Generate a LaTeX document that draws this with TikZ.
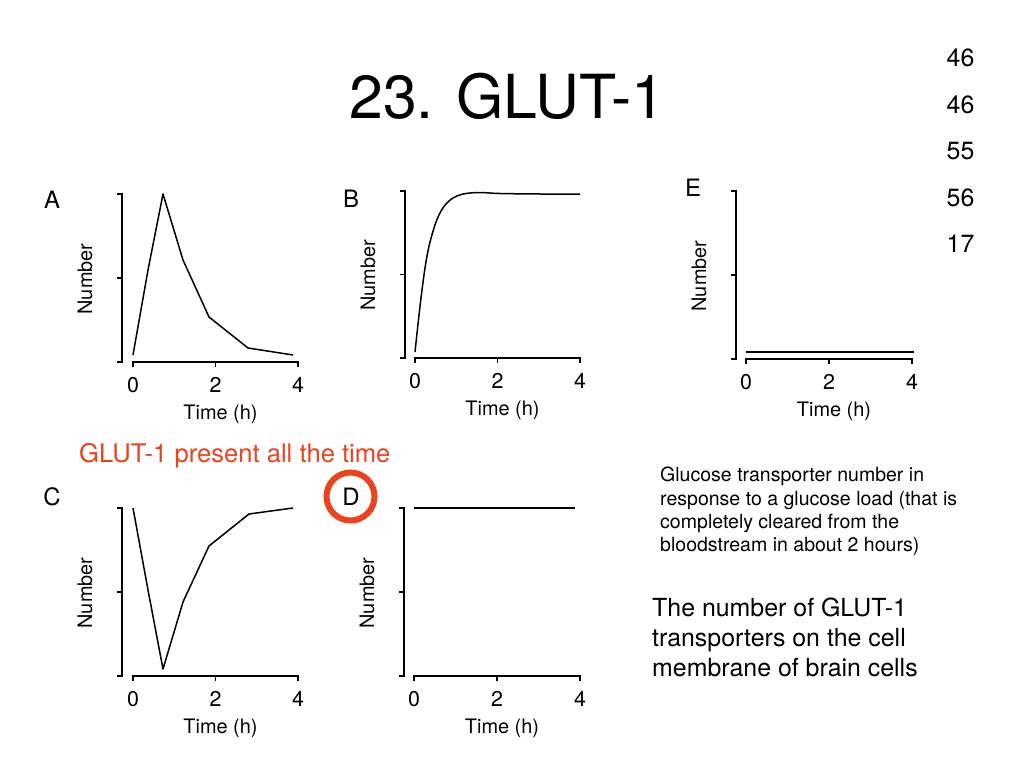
\documentclass[tikz,border=0pt]{standalone}
\usepackage{fontspec}
\setmainfont{TeX Gyre Heros}
\usetikzlibrary{positioning}
\definecolor{glutred}{RGB}{234,67,30}
\tikzset{
  axis/.style={line width=1.4bp},
  curve/.style={line width=1.5bp, line join=round},
  ticklbl/.style={font=\fontsize{21.5}{21.5}\selectfont, anchor=base, inner sep=0},
  axlbl/.style={font=\fontsize{20}{20}\selectfont, inner sep=0},
  paneltag/.style={font=\fontsize{24}{24}\selectfont, anchor=base, inner sep=0},
}

\begin{document}
\begin{tikzpicture}[x=1bp, y=-1bp]
    \fill[white] (0,0) rectangle (1024,768);
    \useasboundingbox (0,0) rectangle (1024,768);
    \node[font=\fontsize{61}{61}\selectfont, anchor=base, inner sep=0] (title) at (507.5,118) {23. GLUT-1};
    \foreach \v/\yy [count=\i] in {46/67,46/113,55/159,56/206,17/252}
      \node[font=\fontsize{25}{25}\selectfont, anchor=base, inner sep=0] (score-\i) at (960.5,\yy) {\v};
% panels: name / y axis x / top / bottom / x of 0 / x of 4 / tag position
    \foreach \n/\yx/\yt/\yb/\xa/\xb/\lx/\ly in {A/122/194/362/133/298/52/208,
        B/405/191/358/415/580/351/207, E/736/191/359/746/912/693/196,
        C/122/508/676/133/298/52/505, D/404/508/676/414/580/351/505}{
      \pgfmathsetmacro\ym{(\yt+\yb)/2}
      \pgfmathsetmacro\xm{(\xa+\xb)/2}
      \draw[axis] ({\yx-5},\yt) -- (\yx,\yt) -- (\yx,\yb) -- ({\yx-5},\yb)
        (\yx,\ym) -- ({\yx-5},\ym);
      \draw[axis] (\xa,{\yb+5}) -- (\xa,\yb) -- (\xb,\yb) -- (\xb,{\yb+5})
        (\xm,\yb) -- (\xm,{\yb+5});
      \node[ticklbl] (\n-t0) at (\xa,{\yb+30}) {0};
      \node[ticklbl] (\n-t2) at (\xm,{\yb+30}) {2};
      \node[ticklbl] (\n-t4) at (\xb,{\yb+30}) {4};
      \node[axlbl, anchor=base] (\n-time) at ({\xm+5},{\yb+57}) {Time (h)};
      \node[axlbl, rotate=90] (\n-num) at ({\yx-37},{\ym+1}) {Number};
      \node[paneltag] (\n-tag) at (\lx,\ly) {\n};
    }
    \draw[curve] plot coordinates {(133,355) (148,270) (163,194) (183,260) (209,317) (248,348) (293,355)};
    \draw[curve] plot[smooth, tension=0.6] coordinates {(415,352) (421,298) (427,256) (434,228) (441,211)
      (449,201) (457,196) (466,193.5) (480,192.5) (500,193.5) (540,194) (580,194)};
    \draw[curve] plot coordinates {(133,508) (148,590) (163,669) (183,602) (209,546) (249,514) (293,508)};
    \draw[curve] (414,508) -- (575,508);
    \draw[curve] (746,352) -- (914,352);
    \node[draw=glutred, line width=6bp, circle, minimum size=48bp, inner sep=0] (ring) at (350.5,496.5) {};
    \node[text=glutred, font=\fontsize{25.7}{25.7}\selectfont, anchor=base west, inner sep=0] (note) at (79,462.5)
      {GLUT-1 present all the time};
    \foreach \s/\yy [count=\i] in {Glucose transporter number in/481.7,
        response to a glucose load (that is/505, completely cleared from the/528.3,
        bloodstream in about 2 hours)/551.7}
      \node[font=\fontsize{19.6}{19.6}\selectfont, anchor=base west, inner sep=0] (cap-\i) at (660,\yy) {\s};
    \foreach \s/\yy [count=\i] in {The number of GLUT-1/616.7, transporters on the cell/646.7,
        membrane of brain cells/676}
      \node[font=\fontsize{25}{25}\selectfont, anchor=base west, inner sep=0] (big-\i) at (652,\yy) {\s};
\end{tikzpicture}
\end{document}
